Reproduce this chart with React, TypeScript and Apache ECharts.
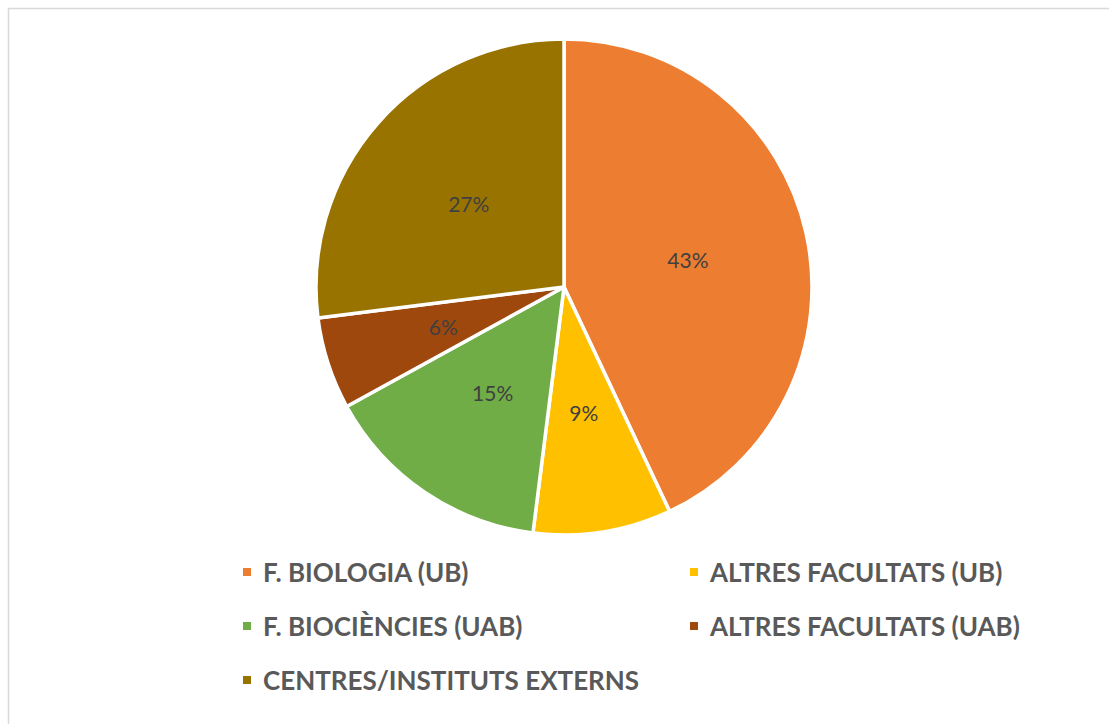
import React, { useEffect, useRef } from "react";
import * as echarts from "echarts";

const categories = [
  "F. BIOLOGIA (UB)",
  "ALTRES FACULTATS (UB)",
  "F. BIOCIÈNCIES (UAB)",
  "ALTRES FACULTATS (UAB)",
  "CENTRES/INSTITUTS EXTERNS",
];
const values = [43, 9, 15, 6, 27];
const colors = ["#ED7D31", "#FFC000", "#70AD47", "#9E480E", "#997300"];
const leftLegend = [categories[0], categories[2], categories[4]];
const rightLegend = [categories[1], categories[3]];

export default function App() {
  const ref = useRef<HTMLDivElement>(null);
  useEffect(() => {
    document.body.style.margin = "0";
    const chart = echarts.init(ref.current!, null, { renderer: "svg" });
    const legendBase = {
      orient: "vertical" as const,
      icon: "rect",
      itemWidth: 10,
      itemHeight: 10,
      itemGap: 24,
      padding: 0,
      selectedMode: false,
      top: 557,
      textStyle: {
        fontFamily: "Lato",
        fontWeight: "bold" as const,
        fontSize: 26,
        color: "#595959",
        lineHeight: 30,
        padding: [0, 0, 0, 6],
      },
    };
    chart.setOption({
      animation: false,
      backgroundColor: "#ffffff",
      color: colors,
      graphic: [
        {
          type: "rect",
          shape: { x: 8.5, y: 8.5, width: 1300, height: 900 },
          style: { fill: "none", stroke: "#d9d9d9", lineWidth: 1.5 },
          silent: true,
        },
      ],
      legend: [
        { ...legendBase, left: 241, data: leftLegend },
        { ...legendBase, left: 688, data: rightLegend },
      ],
      series: [
        {
          type: "pie",
          center: [564, 287],
          radius: [0, 248],
          startAngle: 90,
          clockwise: true,
          data: categories.map((name, i) => ({ name, value: values[i] })),
          itemStyle: { borderColor: "#ffffff", borderWidth: 3.5 },
          label: {
            show: true,
            position: "inside",
            formatter: (p: any) => `${p.value}%`,
            fontFamily: "Lato",
            fontSize: 21,
            color: "#404040",
          },
          labelLine: { show: false },
          emphasis: { disabled: true },
        },
      ],
    });
    return () => chart.dispose();
  }, []);
  return <div ref={ref} style={{ width: 1109, height: 724 }} />;
}
